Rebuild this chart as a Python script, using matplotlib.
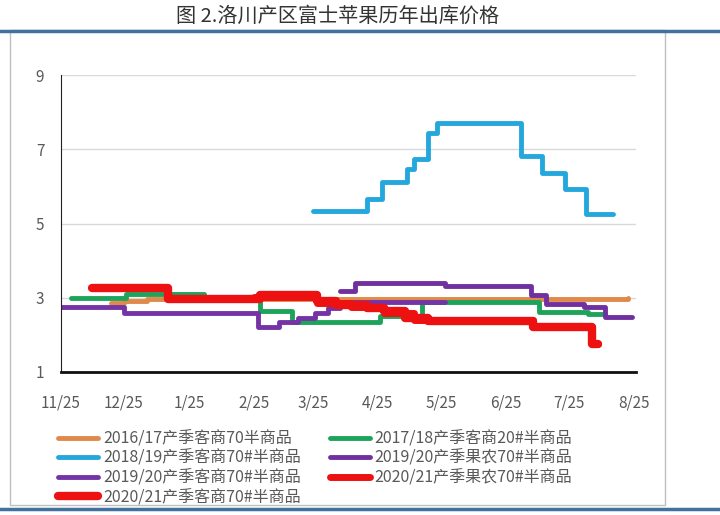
import pandas as pd
import matplotlib.pyplot as plt
from matplotlib.lines import Line2D
from matplotlib.patches import Rectangle

plt.rcParams['font.family'] = ['Noto Sans CJK SC', 'DejaVu Sans']

# 图表数据（日期 -> 价格，阶梯线）
start = pd.Timestamp("2020-11-25")
tick_dates = ["2020-11-25", "2020-12-25", "2021-01-25", "2021-02-25", "2021-03-25",
              "2021-04-25", "2021-05-25", "2021-06-25", "2021-07-25", "2021-08-25"]
tick_labels = ["11/25", "12/25", "1/25", "2/25", "3/25", "4/25", "5/25", "6/25", "7/25", "8/25"]

s1617_dates = ["2020-12-19", "2020-12-25", "2021-01-05", "2021-08-22"]
s1617_vals = [2.85, 2.9, 2.97, 2.99]

s1718_dates = ["2020-11-30", "2020-12-26", "2021-02-01", "2021-02-28", "2021-03-15",
               "2021-04-26", "2021-05-16", "2021-07-11", "2021-08-03", "2021-08-11"]
s1718_vals = [3.0, 3.1, 3.0, 2.65, 2.35, 2.5, 2.88, 2.62, 2.55, 2.55]

s1819_dates = ["2021-03-25", "2021-04-20", "2021-04-27", "2021-05-09", "2021-05-12",
               "2021-05-19", "2021-05-23", "2021-07-02", "2021-07-12", "2021-07-23",
               "2021-08-02", "2021-08-15"]
s1819_vals = [5.35, 5.65, 6.13, 6.48, 6.75, 7.45, 7.72, 6.81, 6.35, 5.92, 5.25, 5.25]

s1920_farm_dates = ["2021-04-07", "2021-04-14", "2021-05-27", "2021-07-07", "2021-07-14",
                    "2021-08-01", "2021-08-11", "2021-08-24"]
s1920_farm_vals = [3.18, 3.4, 3.32, 3.07, 2.83, 2.75, 2.48, 2.48]

s1920_trade_dates = ["2020-11-25", "2020-12-25", "2021-02-27", "2021-03-09", "2021-03-18",
                     "2021-03-26", "2021-04-01", "2021-04-07", "2021-05-27"]
s1920_trade_vals = [2.75, 2.6, 2.2, 2.35, 2.45, 2.6, 2.72, 2.88, 2.88]

s2021_farm_dates = ["2021-02-25", "2021-03-27", "2021-04-12", "2021-04-28", "2021-05-12",
                    "2021-07-08", "2021-08-05", "2021-08-08"]
s2021_farm_vals = [3.02, 2.85, 2.75, 2.6, 2.4, 2.2, 1.75, 1.75]

s2021_trade_dates = ["2020-12-10", "2021-01-15", "2021-02-28", "2021-03-27", "2021-04-05",
                     "2021-04-20", "2021-04-28", "2021-05-08", "2021-05-19", "2021-07-08",
                     "2021-08-05", "2021-08-08"]
s2021_trade_vals = [3.25, 2.97, 3.07, 2.9, 2.8, 2.72, 2.65, 2.45, 2.38, 2.2, 1.75, 1.75]


def days(dates):
    return [(pd.Timestamp(d) - start).days for d in dates]


series = [
    ("2016/17产季客商70半商品", s1617_dates, s1617_vals, "#E0894A", 3.5),
    ("2017/18产季客商20#半商品", s1718_dates, s1718_vals, "#1DA35A", 3.5),
    ("2018/19产季客商70#半商品", s1819_dates, s1819_vals, "#23A7DC", 3.5),
    ("2019/20产季果农70#半商品", s1920_farm_dates, s1920_farm_vals, "#7030A0", 3.5),
    ("2019/20产季客商70#半商品", s1920_trade_dates, s1920_trade_vals, "#7434A6", 3.5),
    ("2020/21产季果农70#半商品", s2021_farm_dates, s2021_farm_vals, "#EE1111", 5),
    ("2020/21产季客商70#半商品", s2021_trade_dates, s2021_trade_vals, "#EE1111", 6),
]

fig = plt.figure(figsize=(7.2, 5.15), dpi=100)
ax = fig.add_axes([61 / 720, 1 - 372 / 515, 575 / 720, 297 / 515])

handles = {}
for name, d, v, c, lw in series:
    ln, = ax.plot(days(d), v, drawstyle="steps-post", color=c, lw=lw,
                  solid_capstyle="round", label=name)
    handles[name] = ln

ax.set_xlim(0, 274)
ax.set_ylim(1, 9)
ax.set_xticks(days(tick_dates))
ax.set_xticklabels(tick_labels)
ax.set_yticks([1, 3, 5, 7, 9])
ax.tick_params(length=0, labelsize=11, labelcolor="#595959")
ax.tick_params(axis="x", pad=16)
ax.tick_params(axis="y", pad=12)
ax.grid(axis="y", color="#D9D9D9", lw=1)
ax.set_axisbelow(True)
for sp in ["top", "right"]:
    ax.spines[sp].set_visible(False)
ax.spines["left"].set_color("#222222")
ax.spines["bottom"].set_color("#111111")
ax.spines["bottom"].set_linewidth(2)

# 图例：按两列逐行排列
order = [0, 2, 4, 6, 1, 3, 5]
names = [series[i][0] for i in order]
fig.legend([handles[n] for n in names], names, ncol=2, loc="upper left",
           bbox_to_anchor=(44 / 720, 1 - 416 / 515), frameon=False,
           fontsize=11.5, labelcolor="#595959", handlelength=2.5,
           columnspacing=1.8, labelspacing=0.16, handletextpad=0.3)

fig.text(338 / 720, 1 - 16 / 515, "图 2.洛川产区富士苹果历年出库价格", ha="center", va="center",
         fontsize=14.5, color="#333333")
fig.add_artist(Rectangle((10 / 720, 1 - 505 / 515), 655 / 720, 475 / 515,
                         transform=fig.transFigure, fill=False, ec="#BFBFBF", lw=1))
fig.add_artist(Line2D([0, 1], [1 - 31 / 515, 1 - 31 / 515], transform=fig.transFigure,
                      color="#41719C", lw=2.5))
fig.add_artist(Line2D([0, 1], [1 - 509 / 515, 1 - 509 / 515], transform=fig.transFigure,
                      color="#41719C", lw=2.5))

fig.savefig("out.png", dpi=100)
